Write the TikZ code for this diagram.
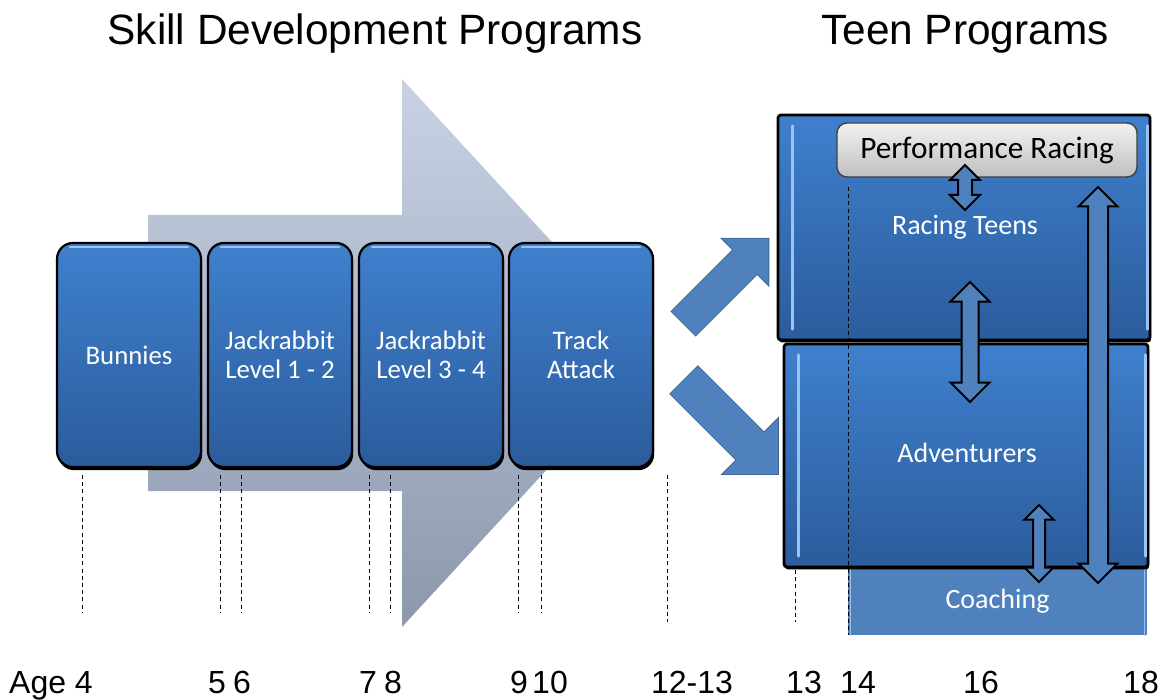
\documentclass[tikz,border=0pt]{standalone}
\usepackage{fontspec}
\setmainfont{Liberation Sans}
\newfontfamily\boxfont{Carlito}
\usepackage{tikz}
\usetikzlibrary{shapes.arrows,shadows}
\definecolor{boxtop}{HTML}{3F80CD}
\definecolor{boxbot}{HTML}{2B5C9C}
\definecolor{boxrim}{HTML}{9CC3F0}
\definecolor{arrfill}{HTML}{4F81BD}
\definecolor{bigtop}{HTML}{C8D2E4}
\definecolor{bigbot}{HTML}{8E98AD}

\tikzset{
  skillbox/.style={draw=black,line width=1.1pt,rounded corners=8pt,
    top color=boxtop,bottom color=boxbot,inner sep=0pt,
    minimum width=72pt,minimum height=112pt,
    drop shadow={shadow xshift=0.6pt,shadow yshift=-1.6pt,opacity=1,fill=black},
    text=white,align=center,font=\boxfont\fontsize{13.4}{14.5}\selectfont},
  teenbox/.style={draw=black,line width=1.4pt,rounded corners=1.5pt,
    top color=boxtop,bottom color=boxbot,inner sep=0pt,
    drop shadow={shadow xshift=0.5pt,shadow yshift=-1.2pt,opacity=1,fill=black}},
  teenlabel/.style={text=white,font=\boxfont\fontsize{14}{16}\selectfont},
  coachbox/.style={fill=arrfill,inner sep=0pt,text=white,font=\boxfont\fontsize{14}{16}\selectfont},
  perfbox/.style={draw=black!75,line width=0.7pt,rounded corners=5pt,
    top color=black!5,bottom color=black!25,inner sep=0pt,
    font=\boxfont\fontsize{15.6}{18}\selectfont},
  rim/.style={boxrim,line width=1.2pt,line cap=round},
  % #1 = half shaft, #2 = head extend
  blockarrow/.style 2 args={single arrow,fill=arrfill,draw=arrfill!80!black,line width=0.4pt,
    inner xsep=0pt,inner ysep=#1,single arrow head extend=#2},
  twoway/.style 2 args={double arrow,fill=arrfill,draw=black,line width=1pt,
    inner xsep=0pt,inner ysep=#1,rotate=90,double arrow head extend=#2},
  agemark/.style={dash pattern=on 2pt off 1.6pt,line width=0.5pt},
  agelabel/.style={anchor=base,font=\fontsize{16}{18}\selectfont},
  title/.style={anchor=base,font=\fontsize{21.2}{25}\selectfont}
}

\begin{document}
\begin{tikzpicture}[x=0.5pt,y=-0.5pt]
  \useasboundingbox (0,0) rectangle (1161,700);
  \node[title] (skilltitle) at (375,45) {Skill Development Programs};
  \node[title] (teentitle) at (965,45) {Teen Programs};
  % ---------- left: the skill programs on the big arrow ----------
  \shade[top color=bigtop,bottom color=bigbot] (148,215) -- (402,215) -- (402,79) -- (654,353)
    -- (402,627) -- (402,491) -- (148,491) -- cycle;
  \foreach \x/\t [count=\i] in {129/Bunnies,280/{Jackrabbit\\Level 1 - 2},431/{Jackrabbit\\Level 3 - 4},581/{Track\\Attack}}
    \node[skillbox] (skill\i) at (\x,355) {\t};
  \foreach \i in {1,...,4}
    \draw[rim] ([xshift=7pt,yshift=-2.5pt]skill\i.north west) -- ([xshift=-7pt,yshift=-2.5pt]skill\i.north east);
  % age marks
  \foreach \x in {82,220,241,369,390,518,541} \draw[agemark] (\x,475) -- (\x,612);
  \draw[agemark] (667,475) -- (667,622);
  \draw[agemark] (795,570) -- (795,622);
  % ---------- middle: the two ways out ----------
  \node[blockarrow={8.5pt}{8.25pt},minimum height=60.5pt,rotate=45,anchor=tail] (toracing) at (683,324) {};
  \node[blockarrow={9.75pt}{10.25pt},minimum height=67pt,rotate=-45,anchor=tail] (toadventure) at (683.5,379.5) {};
  % ---------- right: the teen programs ----------
  \node[coachbox,minimum width=149.5pt,minimum height=33.5pt] (coaching) at (997.5,601.5) {Coaching};
  \draw[rim,line width=0.8pt] ([xshift=1.5pt]coaching.north west) -- ([xshift=1.5pt]coaching.south west);
  \draw[rim,line width=0.8pt] ([xshift=-1.5pt]coaching.north east) -- ([xshift=-1.5pt]coaching.south east);
  \node[teenbox,minimum width=182pt,minimum height=111.5pt] (adventure) at (966,455.5) {};
  \node[teenbox,minimum width=186pt,minimum height=112.5pt] (racing) at (964,227.5) {};
  \foreach \b in {racing,adventure} {
    \draw[rim] ([shift={(8pt,-6pt)}]\b.north west) -- ([shift={(8pt,6pt)}]\b.south west);
    \draw[rim] ([shift={(-2pt,-6pt)}]\b.north east) -- ([shift={(-2pt,6pt)}]\b.south east);
  }
  \node[perfbox,minimum width=150pt,minimum height=27pt] (perf) at (987,150) {Performance Racing};
  \node[teenlabel] (racinglbl) at (965,227) {Racing Teens};
  \node[teenlabel] (adventurelbl) at (967,453) {Adventurers};
  \draw[agemark] (848,187) -- (848,635);
  % moves between the teen programs
  \node[twoway={3pt}{4pt},minimum height=22.5pt] (perfway) at (965,187.5) {};
  \node[twoway={3.75pt}{5.5pt},minimum height=60pt] (raceway) at (970,342) {};
  \node[twoway={2.5pt}{4.25pt},minimum height=38.5pt] (coachway) at (1039,543.5) {};
  \node[twoway={4.5pt}{4.75pt},minimum height=198pt] (longway) at (1098,385) {};
  % ---------- ages ----------
  \foreach \x/\a [count=\i] in {51/Age 4,217/5,242/6,368/7,393/8,519/9,550/10,692/12-13,804/13,858/14,981/16,1141/18}
    \node[agelabel] (age\i) at (\x,693) {\a};
\end{tikzpicture}
\end{document}
